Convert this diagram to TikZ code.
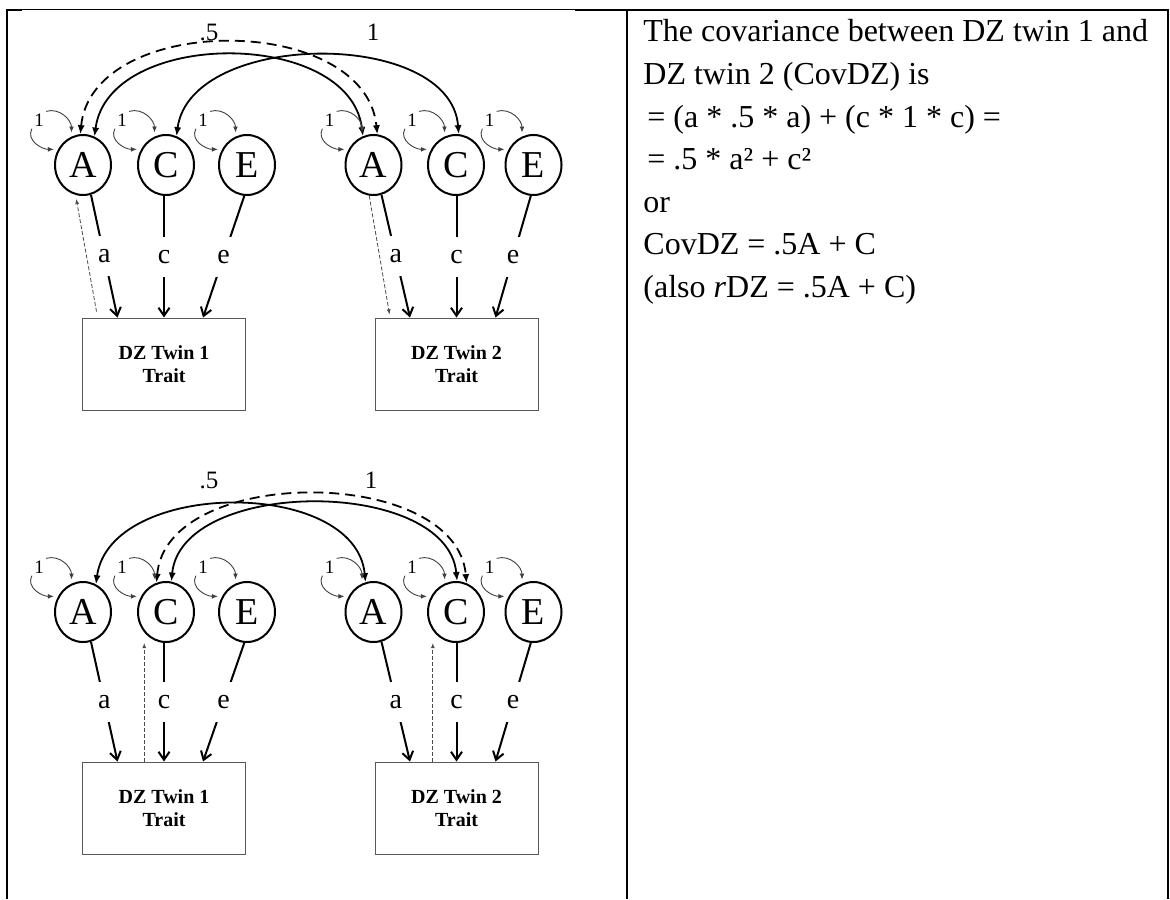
\documentclass[tikz,border=0pt]{standalone}
\usepackage{fontspec}
\setmainfont{Liberation Serif}
\usetikzlibrary{arrows.meta,shapes.geometric}

\begin{document}
\begin{tikzpicture}[x=0.5pt, y=-0.5pt,
        latent/.style={ellipse, draw, line width=1pt, minimum width=28pt, minimum height=30pt, inner sep=0pt, font=\fontsize{19}{19}\selectfont},
        trait/.style={draw=black!65, line width=0.5pt, minimum width=81.5pt, minimum height=46pt, align=center, font=\fontsize{10}{11.5}\selectfont\bfseries},
        load/.style={-{Straight Barb[length=4pt,width=5.5pt]}, line width=1pt},
        loadlab/.style={fill=white, inner xsep=2pt, inner ysep=0pt, minimum height=20pt, font=\fontsize{14}{14}\selectfont},
        cov/.style={{Latex[length=4.5pt,width=3.6pt]}-{Latex[length=4.5pt,width=3.6pt]}, line width=0.9pt},
        covdash/.style={cov, dash pattern=on 5pt off 3pt},
        var/.style={-{Latex[length=3pt,width=2.4pt]}, line width=0.45pt, black!75, shorten >=2pt},
        varlab/.style={inner sep=1pt, font=\fontsize{9.5}{9.5}\selectfont},
        corlab/.style={font=\fontsize{12.5}{12.5}\selectfont},
        trace/.style={-{Latex[length=2.6pt,width=2pt]}, line width=0.4pt, black!70, dash pattern=on 2pt off 1pt},
        txtline/.style={anchor=base west, inner sep=0pt, font=\fontsize{16}{16}\selectfont}]
    \useasboundingbox (0,0) rectangle (1170,899);

    % table rules
    \draw[line width=0.5pt] (7,10) -- (1168,10);
    \draw[line width=1pt] (575,10) -- (1168,10);
    \draw[line width=1.2pt] (7,10) -- (22,10);
    \draw[line width=1.2pt] (7,9.4) -- (7,899);
    \draw[line width=1pt] (627,10) -- (627,899);
    \draw[line width=1pt] (1168,9.5) -- (1168,899);

    % upper model: A shared .5
    \node[latent] (tA1) at (83,165) {A};
    \node[latent] (tC1) at (166,165) {C};
    \node[latent] (tE1) at (247,165) {E};
    \node[latent] (tA2) at (373.5,165) {A};
    \node[latent] (tC2) at (456,165) {C};
    \node[latent] (tE2) at (533.5,165) {E};
    \node[trait] (tT1) at (164,364) {DZ Twin 1\\Trait};
    \node[trait] (tT2) at (456.5,364) {DZ Twin 2\\Trait};

    \draw[load] (tA1.-75) -- node[loadlab, pos=0.5] {a} (tT1.135);
    \draw[load] (tT1.north |- tC1.south) -- node[loadlab, pos=0.5] {c} (tT1.north);
    \draw[load] (tE1.-95) -- node[loadlab, pos=0.5] {e} (tT1.50);
    \draw[load] (tA2.-75) -- node[loadlab, pos=0.5] {a} (tT2.135);
    \draw[load] (tT2.north |- tC2.south) -- node[loadlab, pos=0.5] {c} (tT2.north);
    \draw[load] (tE2.-95) -- node[loadlab, pos=0.5] {e} (tT2.50);

    \draw[covdash] (tA1.95) .. controls +(12,-122) and +(-12,-122) .. (tA2.83);
    \draw[cov] (tA1.68) .. controls +(14,-108) and +(-14,-108) .. (tA2.110);
    \draw[cov] (tC1.70) .. controls +(14,-106) and +(-8,-106) .. (tC2.85);
    \node[corlab] (tk5) at (209,32) {.5};
    \node[corlab] (tk1) at (373,32) {1};

    \draw[trace, shorten <=3pt, shorten >=2pt] (tT1.145) -- (tA1.-104);
    \draw[trace, shorten >=1.5pt] (tA2.-98) -- (tT2.145);

    % lower model: C shared 1
    \node[latent] (bA1) at (83,612) {A};
    \node[latent] (bC1) at (166,612) {C};
    \node[latent] (bE1) at (247,612) {E};
    \node[latent] (bA2) at (373.5,612) {A};
    \node[latent] (bC2) at (456,612) {C};
    \node[latent] (bE2) at (533.5,612) {E};
    \node[trait] (bT1) at (164,808) {DZ Twin 1\\Trait};
    \node[trait] (bT2) at (456.5,808) {DZ Twin 2\\Trait};

    \draw[load] (bA1.-75) -- node[loadlab, pos=0.5] {a} (bT1.135);
    \draw[load] (bT1.north |- bC1.south) -- node[loadlab, pos=0.5] {c} (bT1.north);
    \draw[load] (bE1.-95) -- node[loadlab, pos=0.5] {e} (bT1.50);
    \draw[load] (bA2.-75) -- node[loadlab, pos=0.5] {a} (bT2.135);
    \draw[load] (bT2.north |- bC2.south) -- node[loadlab, pos=0.5] {c} (bT2.north);
    \draw[load] (bE2.-95) -- node[loadlab, pos=0.5] {e} (bT2.50);

    \draw[cov] (bA1.65) .. controls +(14,-105) and +(-10,-105) .. (bA2.105);
    \draw[covdash] (bC1.108) .. controls +(10,-118) and +(-10,-118) .. (bC2.70);
    \draw[cov] (bC1.80) .. controls +(10,-104) and +(-10,-104) .. (bC2.88);
    \node[corlab] (bk5) at (209,480) {.5};
    \node[corlab] (bk1) at (371,480) {1};

    \draw[trace] (bT1.113) -- (bT1.113 |- bC1.south);
    \draw[trace] (bT2.117) -- (bT2.117 |- bC2.south);

    % variances
    \foreach \lv in {tA1,tC1,tE1,tA2,tC2,tE2,bA1,bC1,bE1,bA2,bC2,bE2} {
        \node[varlab] (v\lv) at ([shift={(-44,-45)}]\lv.center) {1};
        \draw[var] (v\lv.north east) .. controls +(14,-4) and +(0,-16) .. (\lv.112);
        \draw[var] (v\lv.south west) .. controls +(-6,12) and +(-16,0) .. (\lv.148);
    }

    % right column
    \node[txtline] (l1) at (643,42) {The covariance between DZ twin 1 and};
    \node[txtline] (l2) at (643,84.5) {DZ twin 2 (CovDZ) is};
    \node[txtline] (l3) at (647,127) {= (a * .5 * a) + (c * 1 * c) =};
    \node[txtline] (l4) at (647,169.5) {= .5 * a² + c²};
    \node[txtline] (l5) at (643,212) {or};
    \node[txtline] (l6) at (643,254.5) {CovDZ = .5A + C};
    \node[txtline] (l7) at (643,297) {(also \textit{r}DZ = .5A + C)};
\end{tikzpicture}
\end{document}
